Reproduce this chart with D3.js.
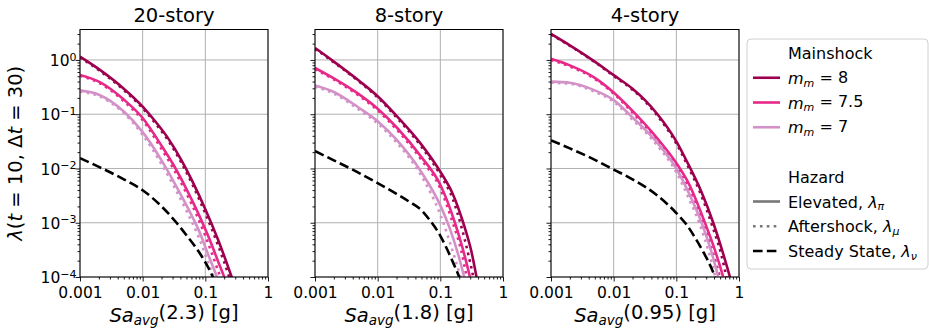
<!DOCTYPE html>
<html>
<head>
<meta charset="utf-8">
<script src="https://cdn.jsdelivr.net/npm/d3@7"></script>
<style>
  body { margin: 0; background: #fff; }
  text { font-family: "DejaVu Sans", sans-serif; fill: #000; }
</style>
</head>
<body>
<svg id="chart" width="929" height="329"></svg>
<script>
// ---- data ----
const stories = ["20-story", "8-story", "4-story"];
const periods = ["2.3", "1.8", "0.95"];
const magnitudes = ["8", "7.5", "7"];
const xTicks = [0.001, 0.01, 0.1, 1];
const xTickLabels = ["0.001", "0.01", "0.1", "1"];
const yTicks = [1e-4, 1e-3, 1e-2, 1e-1, 1e0];
const yTickExp = ["−4", "−3", "−2", "−1", "0"];

// [Sa, lambda] pairs; magnitude order 8 / 7.5 / 7
const elevated20 = [
  [[0.001,1.148],[0.002,0.676],[0.005,0.295],[0.01,0.138],[0.01585,0.0741],[0.0257,0.0355],[0.0417,0.01413],[0.0631,0.00562],[0.1,0.00178],[0.158,0.000501],[0.263,0.0001],[0.355,0.0000355]],
  [[0.001,0.53],[0.002,0.398],[0.005,0.1862],[0.01,0.0851],[0.02,0.0263],[0.0316,0.01122],[0.05,0.00417],[0.0794,0.00138],[0.126,0.000398],[0.158,0.0002],[0.204,0.0000933],[0.251,0.0000398]],
  [[0.001,0.275],[0.002,0.229],[0.005,0.1122],[0.01,0.0468],[0.02,0.01413],[0.0316,0.00562],[0.05,0.00209],[0.0794,0.000708],[0.1122,0.000251],[0.155,0.0000955],[0.2,0.0000355]]
];
const aftershock20 = [
  [[0.001,1.109],[0.002,0.646],[0.005,0.2786],[0.01,0.1288],[0.01585,0.0684],[0.0257,0.0324],[0.0417,0.01259],[0.0631,0.0049],[0.1,0.00148],[0.158,0.000398],[0.24,0.0001],[0.316,0.0000355]],
  [[0.001,0.513],[0.002,0.38],[0.005,0.1738],[0.01,0.0776],[0.02,0.0229],[0.0316,0.00955],[0.05,0.00347],[0.0794,0.0011],[0.126,0.000282],[0.158,0.000135],[0.18,0.0000891],[0.224,0.0000355]],
  [[0.001,0.26],[0.002,0.216],[0.005,0.1047],[0.01,0.0417],[0.02,0.01202],[0.0316,0.00468],[0.05,0.00166],[0.0794,0.000525],[0.1122,0.000178],[0.137,0.0000955],[0.178,0.0000316]]
];
const steady20 = [[0.001,0.0155],[0.002,0.01072],[0.005,0.00631],[0.01,0.00398],[0.02,0.002],[0.0347,0.001],
  [0.05,0.000589],[0.0708,0.000347],[0.1,0.000186],[0.134,0.0000955],[0.158,0.0000562]];

const elevated8 = [
  [[0.001,1.66],[0.002,0.933],[0.005,0.417],[0.01,0.214],[0.02,0.0933],[0.05,0.0275],[0.1,0.00871],[0.158,0.00339],[0.232,0.001],[0.316,0.000282],[0.378,0.0001],[0.447,0.0000355]],
  [[0.001,0.713],[0.002,0.457],[0.005,0.234],[0.01,0.126],[0.02,0.0575],[0.05,0.0162],[0.1,0.00501],[0.171,0.001],[0.224,0.000355],[0.296,0.0001],[0.355,0.0000355]],
  [[0.001,0.339],[0.002,0.257],[0.005,0.1318],[0.01,0.0741],[0.02,0.0339],[0.05,0.00851],[0.1,0.00209],[0.141,0.000794],[0.2,0.000224],[0.24,0.0001],[0.282,0.0000447]]
];
const aftershock8 = [
  [[0.001,1.603],[0.002,0.902],[0.005,0.403],[0.01,0.204],[0.02,0.0871],[0.05,0.0251],[0.1,0.00759],[0.158,0.00275],[0.214,0.000891],[0.282,0.000251],[0.335,0.0001],[0.398,0.0000316]],
  [[0.001,0.679],[0.002,0.437],[0.005,0.221],[0.01,0.1175],[0.02,0.0525],[0.05,0.01445],[0.1,0.00427],[0.158,0.001],[0.214,0.000316],[0.263,0.0001],[0.316,0.0000316]],
  [[0.001,0.32],[0.002,0.24],[0.005,0.1216],[0.01,0.0676],[0.02,0.0302],[0.05,0.00724],[0.1,0.00141],[0.141,0.000447],[0.2,0.00012],[0.219,0.0000832]]
];
const steady8 = [[0.001,0.0209],[0.002,0.01413],[0.005,0.00832],[0.01,0.00537],[0.02,0.00339],[0.0316,0.002455],
  [0.05,0.0017],[0.0708,0.001047],[0.1,0.000575],[0.126,0.000339],[0.158,0.00019],[0.2,0.0001],[0.251,0.00005]];

const elevated4 = [
  [[0.001,3.02],[0.002,1.862],[0.005,0.933],[0.01,0.525],[0.02,0.295],[0.0316,0.182],[0.05,0.1],[0.1,0.0316],[0.155,0.012],[0.251,0.00372],[0.388,0.001],[0.562,0.000263],[0.716,0.0001],[0.891,0.0000355]],
  [[0.001,1.047],[0.002,0.794],[0.005,0.468],[0.01,0.251],[0.02,0.1148],[0.05,0.0355],[0.1,0.01259],[0.158,0.00525],[0.286,0.001],[0.398,0.000355],[0.56,0.0001],[0.708,0.0000355]],
  [[0.001,0.398],[0.002,0.38],[0.005,0.275],[0.01,0.182],[0.02,0.0871],[0.05,0.0295],[0.1,0.01],[0.158,0.00355],[0.253,0.001],[0.355,0.000316],[0.466,0.0001],[0.562,0.0000398]]
];
const aftershock4 = [
  [[0.001,2.95],[0.002,1.82],[0.005,0.912],[0.01,0.507],[0.02,0.282],[0.0316,0.172],[0.05,0.0933],[0.1,0.0288],[0.155,0.0107],[0.251,0.00316],[0.372,0.000891],[0.525,0.000251],[0.631,0.0001],[0.794,0.0000316]],
  [[0.001,1.0],[0.002,0.759],[0.005,0.447],[0.01,0.24],[0.02,0.1072],[0.05,0.0324],[0.1,0.01122],[0.158,0.00447],[0.269,0.001],[0.363,0.000355],[0.495,0.0001],[0.631,0.0000316]],
  [[0.001,0.38],[0.002,0.363],[0.005,0.26],[0.01,0.17],[0.02,0.0794],[0.05,0.0263],[0.1,0.00851],[0.158,0.00282],[0.24,0.000891],[0.331,0.000282],[0.417,0.0001],[0.501,0.0000355]]
];
const steady4 = [[0.001,0.0331],[0.002,0.02344],[0.005,0.01445],[0.01,0.00955],[0.02,0.00631],[0.05,0.00316],
  [0.1,0.00151],[0.149,0.000891],[0.2,0.000525],[0.282,0.000263],[0.355,0.000155],[0.413,0.0001],[0.501,0.00005]];

const elevated = [elevated20, elevated8, elevated4];
const aftershock = [aftershock20, aftershock8, aftershock4];
const steady = [steady20, steady8, steady4];

// ---- layout ----
const colors = ["#9e0050", "#e7298a", "#d391c8"];
const svg = d3.select("#chart");
const panelX = [80, 315, 551];
const plotTop = 29.5, pw = 188, ph = 247.5;

const x = d3.scaleLog().domain([0.001, 1]).range([0, pw]);
const y = d3.scaleLog().domain([1e-4, 3.64]).range([ph, 0]);

const line = d3.line()
  .x(d => x(d[0]))
  .y(d => y(d[1]))
  .curve(d3.curveMonotoneX);

// minor ticks for log axes
const xMinor = [];
for (let e = -3; e < 0; e++) for (let k = 2; k <= 9; k++) xMinor.push(k * Math.pow(10, e));
const yMinor = [];
for (let e = -4; e <= 0; e++) for (let k = 2; k <= 9; k++) {
  const v = k * Math.pow(10, e);
  if (v <= 3.64) yMinor.push(v);
}

stories.forEach((name, i) => {
  let g = svg.append("g").attr("transform", `translate(${panelX[i]},${plotTop})`);

  g.append("clipPath").attr("id", "clip" + i)
    .append("rect").attr("width", pw).attr("height", ph);

  // grid
  g.append("g").selectAll("line").data(xTicks).enter().append("line")
    .attr("x1", d => x(d)).attr("x2", d => x(d))
    .attr("y1", 0).attr("y2", ph)
    .style("stroke", "#b0b0b0").style("stroke-width", 1);
  g.append("g").selectAll("line").data(yTicks).enter().append("line")
    .attr("x1", 0).attr("x2", pw)
    .attr("y1", d => y(d)).attr("y2", d => y(d))
    .style("stroke", "#b0b0b0").style("stroke-width", 1);

  let plot = g.append("g").attr("clip-path", `url(#clip${i})`);

  magnitudes.forEach((m, j) => {
    plot.append("path")
      .attr("d", line(elevated[i][j]))
      .style("fill", "none")
      .style("stroke", colors[j])
      .style("stroke-width", 2.6);
    plot.append("path")
      .attr("d", line(aftershock[i][j]))
      .style("fill", "none")
      .style("stroke", colors[j])
      .style("stroke-width", 2.6)
      .style("stroke-dasharray", "2.6,4.3");
  });

  plot.append("path")
    .attr("d", line(steady[i]))
    .style("fill", "none")
    .style("stroke", "#000")
    .style("stroke-width", 2.6)
    .style("stroke-dasharray", "9.6,4.2");

  // axes
  let xAxis = g.append("g").attr("transform", `translate(0,${ph})`)
    .call(d3.axisBottom(x).tickValues(xTicks).tickSize(4.5).tickPadding(5.5)
      .tickFormat((d, k) => xTickLabels[k]));
  g.append("g").attr("transform", `translate(0,${ph})`)
    .call(d3.axisBottom(x).tickValues(xMinor).tickSize(2.5).tickFormat(""));

  let yAxis = g.append("g")
    .call(d3.axisLeft(y).tickValues(yTicks).tickSize(4.5).tickPadding(3).tickFormat(""));
  g.append("g")
    .call(d3.axisLeft(y).tickValues(yMinor).tickSize(2.5).tickFormat(""));

  g.selectAll(".domain").remove();
  g.selectAll(".tick line").style("stroke", "#000").style("stroke-width", 0.9);
  xAxis.selectAll("text").style("font-size", "15.5px").style("font-family", "DejaVu Sans");

  if (i === 0) {
    yAxis.selectAll(".tick").each(function(d, k) {
      let t = d3.select(this).append("text")
        .attr("x", -3.5).attr("dy", "0.36em")
        .attr("text-anchor", "end")
        .style("font-size", "15.5px");
      t.append("tspan").text("10");
      t.append("tspan").attr("dy", "-0.5em").style("font-size", "11px").text(yTickExp[k]);
    });
  }

  // frame
  g.append("rect").attr("width", pw).attr("height", ph)
    .style("fill", "none").style("stroke", "#000").style("stroke-width", 1);

  // title
  g.append("text").attr("x", pw / 2).attr("y", -8)
    .attr("text-anchor", "middle").style("font-size", "19.5px").text(name);

  // x label
  let xl = g.append("text").attr("x", pw / 2).attr("y", ph + 45)
    .attr("text-anchor", "middle").style("font-size", "19.5px");
  xl.append("tspan").style("font-style", "italic").text("Sa");
  xl.append("tspan").attr("dy", "0.25em").style("font-size", "13.5px").style("font-style", "italic").text("avg");
  xl.append("tspan").attr("dy", "-0.33em").text(`(${periods[i]}) [g]`);
});

// y label
let yl = svg.append("text")
  .attr("transform", `translate(22,${plotTop + ph / 2}) rotate(-90)`)
  .attr("text-anchor", "middle").style("font-size", "19.5px");
yl.append("tspan").style("font-style", "italic").text("λ");
yl.append("tspan").text("(");
yl.append("tspan").style("font-style", "italic").text("t");
yl.append("tspan").text(" = 10, Δ");
yl.append("tspan").style("font-style", "italic").text("t");
yl.append("tspan").text(" = 30)");

// legend
let leg = svg.append("g").attr("transform", "translate(747,39)");
leg.append("rect").attr("width", 181).attr("height", 230).attr("rx", 4)
  .style("fill", "#fff").style("stroke", "#d0d0d0").style("stroke-width", 1);

const rowY = k => 14 + k * 24.75;
const tx = 41;

function legendText(k) {
  return leg.append("text").attr("x", tx).attr("y", rowY(k) + 6).style("font-size", "16px");
}

legendText(0).text("Mainshock");
magnitudes.forEach((m, j) => {
  leg.append("line").attr("x1", 6).attr("x2", 33).attr("y1", rowY(j + 1)).attr("y2", rowY(j + 1))
    .style("stroke", colors[j]).style("stroke-width", 2.6);
  let t = legendText(j + 1);
  t.append("tspan").style("font-style", "italic").text("m");
  t.append("tspan").attr("dy", "0.25em").style("font-size", "11px").style("font-style", "italic").text("m");
  t.append("tspan").attr("dy", "-0.25em").text(" = " + m);
});

legendText(5).text("Hazard");
const hazards = [["Elevated, ", "π"], ["Aftershock, ", "μ"], ["Steady State, ", "ν"]];
const hazStroke = ["#777", "#777", "#000"];
const hazDash = [null, "2.6,4.3", "9.6,4.2"];
hazards.forEach((h, k) => {
  leg.append("line").attr("x1", 6).attr("x2", 33).attr("y1", rowY(k + 6)).attr("y2", rowY(k + 6))
    .style("stroke", hazStroke[k]).style("stroke-width", 2.6)
    .style("stroke-dasharray", hazDash[k]);
  let t = legendText(k + 6);
  t.append("tspan").text(h[0]);
  t.append("tspan").style("font-style", "italic").text("λ");
  t.append("tspan").attr("dy", "0.25em").style("font-size", "11px").style("font-style", "italic").text(h[1]);
});
</script>
</body>
</html>
